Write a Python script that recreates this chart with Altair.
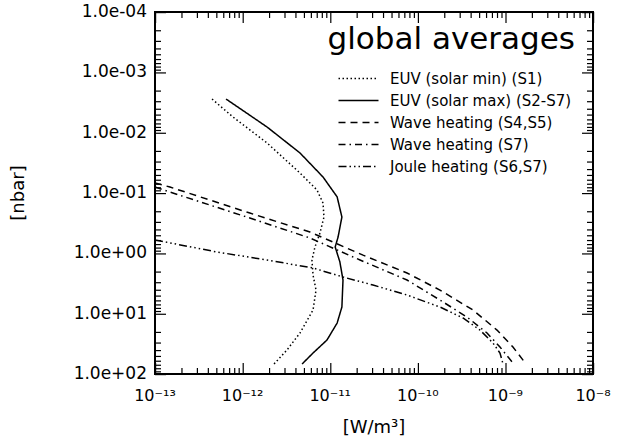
import altair as alt
import pandas as pd

# ---------------- data ----------------
series_names = [
    "EUV (solar min) (S1)",
    "EUV (solar max) (S2-S7)",
    "Wave heating (S4,S5)",
    "Wave heating (S7)",
    "Joule heating (S6,S7)",
]

euv_min_p = [2.77e-3, 5.5e-3, 1.48e-2, 4.67e-2, 8.9e-2, 0.147, 0.25, 0.46, 0.785, 1.29, 2.29, 4.06, 8.7, 20.9, 40.0, 68.4]
euv_min_q = [4.48e-13, 7.76e-13, 1.90e-12, 4.52e-12, 7.06e-12, 8.28e-12, 8.49e-12, 7.65e-12, 6.70e-12, 6.19e-12, 6.37e-12, 6.89e-12, 6.37e-12, 4.52e-12, 3.21e-12, 2.28e-12]

euv_max_p = [2.77e-3, 8.05e-3, 2.17e-2, 5.43e-2, 0.116, 0.25, 0.537, 0.785, 1.39, 2.77, 7.76, 14.3, 27.4, 44.9, 68.4]
euv_max_q = [6.47e-13, 1.90e-12, 4.52e-12, 8.28e-12, 1.20e-11, 1.36e-11, 1.23e-11, 1.14e-11, 1.29e-11, 1.40e-11, 1.36e-11, 1.20e-11, 9.18e-12, 6.37e-12, 4.77e-12]

wave45_p = [0.0682, 0.0796, 0.215, 0.444, 1.07, 2.12, 4.06, 8.7, 18.7, 35.7, 68.4]
wave45_q = [1.0e-13, 1.48e-13, 1.21e-12, 5.87e-12, 2.37e-11, 7.53e-11, 1.79e-10, 4.26e-10, 8.02e-10, 1.22e-9, 1.72e-9]

wave7_p = [0.0796, 0.0964, 0.26, 0.557, 1.29, 2.77, 5.94, 11.4, 20.9, 35.7, 65.8]
wave7_q = [1.0e-13, 1.48e-13, 1.21e-12, 5.87e-12, 2.19e-11, 7.53e-11, 1.79e-10, 3.65e-10, 6.17e-10, 8.67e-10, 1.22e-9]

joule_p = [0.601, 0.95, 1.29, 1.75, 2.47, 3.35, 4.91, 7.76, 11.8, 18.7, 30.6, 44.9, 68.4]
joule_q = [1.0e-13, 5.1e-13, 1.90e-12, 6.37e-12, 1.40e-11, 3.08e-11, 7.53e-11, 1.79e-10, 3.28e-10, 5.13e-10, 7.21e-10, 8.67e-10, 9.4e-10]

x_major = [1e-13, 1e-12, 1e-11, 1e-10, 1e-9, 1e-8]
x_labels = ["10\u207b\u00b9\u00b3", "10\u207b\u00b9\u00b2", "10\u207b\u00b9\u00b9",
            "10\u207b\u00b9\u2070", "10\u207b\u2079", "10\u207b\u2078"]
y_major = [1e-4, 1e-3, 1e-2, 1e-1, 1e0, 1e1, 1e2]
y_labels = ["1.0e-04", "1.0e-03", "1.0e-02", "1.0e-01", "1.0e+00", "1.0e+01", "1.0e+02"]
x_title = "[W/m\u00b3]"
y_title = "[nbar]"
chart_title = "global averages"

# ---------------- build table ----------------
all_p = [euv_min_p, euv_max_p, wave45_p, wave7_p, joule_p]
all_q = [euv_min_q, euv_max_q, wave45_q, wave7_q, joule_q]
rows = []
for name, ps, qs in zip(series_names, all_p, all_q):
    for i, (p, q) in enumerate(zip(ps, qs)):
        rows.append({"series": name, "idx": i, "p": p, "q": q})
df = pd.DataFrame(rows)

x_minor = [k * 10.0 ** e for e in range(-13, -8) for k in range(2, 10)]
y_minor = [k * 10.0 ** e for e in range(-4, 2) for k in range(2, 10)]

W, H = 438, 362
FONT = "DejaVu Sans"

xscale = alt.Scale(type="log", domain=[1e-13, 1e-8], nice=False)
yscale = alt.Scale(type="log", domain=[1e-4, 1e2], nice=False, reverse=True)

dash_patterns = [[1.5, 2.5], [1, 0], [7, 5], [7, 4, 1.5, 4], [8, 3, 1.5, 3, 1.5, 3, 1.5, 3]]

lines = alt.Chart(df).mark_line(color="black", strokeWidth=1.5, clip=True).encode(
    x=alt.X("q:Q", scale=xscale, axis=None),
    y=alt.Y("p:Q", scale=yscale, axis=None),
    strokeDash=alt.StrokeDash(
        "series:N",
        scale=alt.Scale(domain=series_names, range=dash_patterns),
        legend=alt.Legend(orient="none", legendX=196, legendY=59, title=None,
                          symbolType="M-4,0H4", symbolSize=100, symbolStrokeWidth=1.5,
                          symbolStrokeColor="black", labelFontSize=15, labelFont=FONT,
                          labelColor="black", labelOffset=24, rowPadding=6, padding=0,
                          labelLimit=400),
    ),
    order=alt.Order("idx:Q"),
)

# one pixel in data units: x has ~87.6 px per decade, y ~60.3 px per decade
XSTEP = 10 ** (1.2 / 87.6)
YSTEP = 10 ** (1.2 / 60.3)


# inward tick marks on all four sides (IDL-style box), drawn as thin rectangles
def xticks(vals, length, top):
    base = alt.Chart(pd.DataFrame({"v": vals})).transform_calculate(
        v2=f"datum.v * {XSTEP}"
    ).mark_rect(color="black", opacity=1)
    enc = dict(x=alt.X("v:Q", scale=xscale, axis=None), x2=alt.X2("v2:Q"))
    if top:
        return base.encode(y=alt.value(0), y2=alt.value(length), **enc)
    return base.encode(y=alt.value(H - length), y2=alt.value(H), **enc)


def yticks(vals, length, right):
    base = alt.Chart(pd.DataFrame({"v": vals})).transform_calculate(
        v2=f"datum.v * {YSTEP}"
    ).mark_rect(color="black", opacity=1)
    enc = dict(y=alt.Y("v:Q", scale=yscale, axis=None), y2=alt.Y2("v2:Q"))
    if right:
        return base.encode(x=alt.value(W - length), x2=alt.value(W), **enc)
    return base.encode(x=alt.value(0), x2=alt.value(length), **enc)


tick_layers = [
    xticks(x_major, 11, False), xticks(x_major, 11, True),
    xticks(x_minor, 6, False), xticks(x_minor, 6, True),
    yticks(y_major, 11, False), yticks(y_major, 11, True),
    yticks(y_minor, 6, False), yticks(y_minor, 6, True),
]

# tick labels, placed through the scales
x_lab = alt.Chart(pd.DataFrame({"v": x_major, "label": x_labels})).mark_text(
    font=FONT, fontSize=16, color="black", align="center", baseline="top"
).encode(x=alt.X("v:Q", scale=xscale, axis=None), y=alt.value(H + 14), text="label:N")

y_lab = alt.Chart(pd.DataFrame({"v": y_major, "label": y_labels})).mark_text(
    font=FONT, fontSize=17, color="black", align="right", baseline="middle"
).encode(y=alt.Y("v:Q", scale=yscale, axis=None), x=alt.value(-8), text="label:N")

# axis titles
x_tit = alt.Chart(pd.DataFrame({"t": [x_title]})).mark_text(
    font=FONT, fontSize=18, color="black", align="center", baseline="middle"
).encode(x=alt.value(W / 2), y=alt.value(H + 54), text="t:N")

y_tit = alt.Chart(pd.DataFrame({"t": [y_title]})).mark_text(
    font=FONT, fontSize=18, color="black", align="center", baseline="middle", angle=270
).encode(x=alt.value(-136), y=alt.value(H / 2), text="t:N")

chart = alt.layer(lines, *tick_layers, x_lab, y_lab, x_tit, y_tit).properties(
    width=W,
    height=H,
    autosize=alt.AutoSizeParams(type="none"),
    padding={"left": 155, "top": 12, "right": 36, "bottom": 70},
    background="white",
    title=alt.TitleParams(chart_title, anchor="end", frame="group", fontSize=31,
                          font=FONT, fontWeight="normal", baseline="alphabetic", offset=0,
                          dy=77, dx=-18, color="black"),
).configure_view(stroke="black", strokeWidth=2)

chart.save("out.html", embed_options={"renderer": "svg", "actions": False})
